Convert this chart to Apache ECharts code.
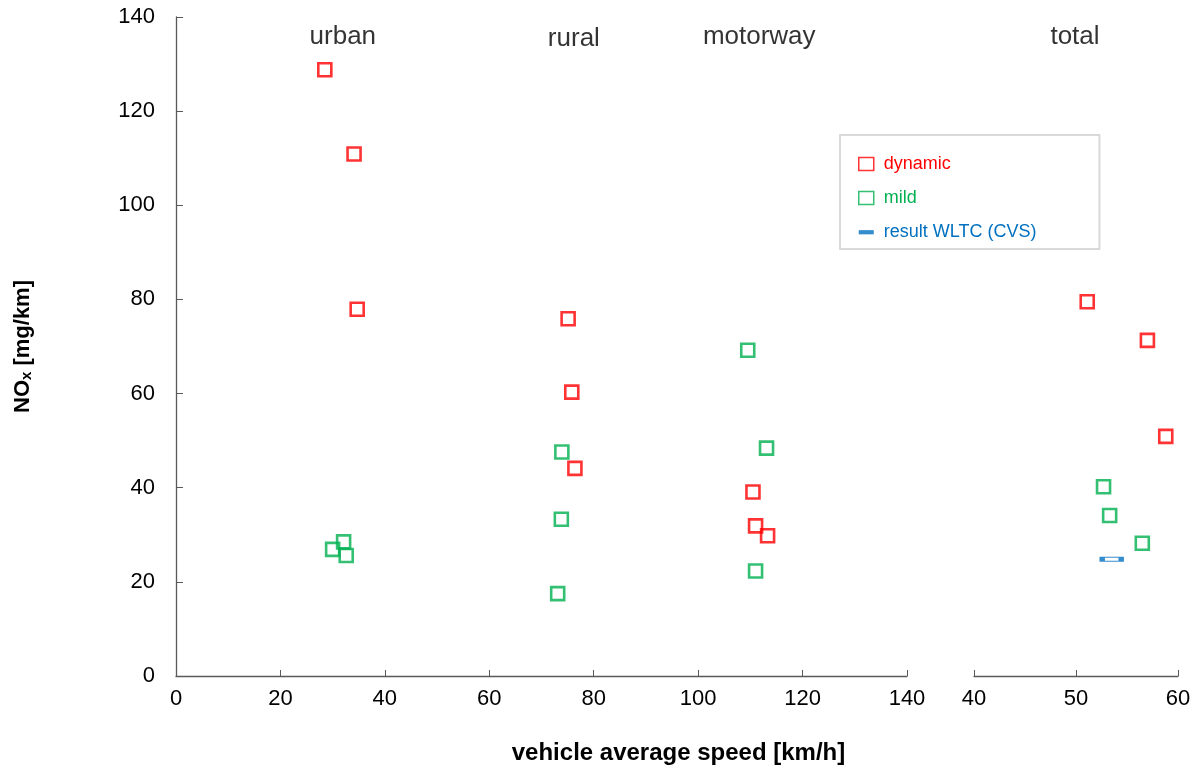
<!DOCTYPE html>
<html>
<head>
<meta charset="utf-8">
<script src="https://cdn.jsdelivr.net/npm/echarts@6/dist/echarts.min.js"></script>
<style>
html,body{margin:0;padding:0;background:#fff;}
#chart{width:1203px;height:772px;}
</style>
</head>
<body>
<div id="chart"></div>
<script>
// ---- data (x = vehicle average speed km/h, y = NOx mg/km) ----
const urbanDynamic = [[28.5,128.8],[34.1,110.9],[34.7,77.9]];
const urbanMild = [[30.0,26.9],[32.1,28.5],[32.6,25.6]];
const ruralDynamic = [[75.1,75.9],[75.8,60.3],[76.4,44.1]];
const ruralMild = [[73.9,47.6],[73.8,33.3],[73.1,17.5]];
const motorwayDynamic = [[110.5,39.1],[111.0,31.9],[113.3,29.8]];
const motorwayMild = [[109.5,69.2],[113.1,48.4],[111.0,22.3]];
const totalDynamic = [[51.1,79.5],[57.0,71.3],[58.8,50.9]];
const totalMild = [[52.7,40.2],[53.3,34.1],[56.5,28.2]];
const totalWLTC = [[53.5,24.8]];
const phaseLabels = [[31.95,135.8,'urban'],[76.2,135.3,'rural'],[111.7,135.8,'motorway']];
const totalLabel = [[49.9,135.8,'total']];
const seriesNames = ['dynamic','mild','result WLTC (CVS)'];

const RED = '#FF0000', GREEN = '#00B050', BLUE = '#0070C0', AXIS = '#595959';
const FONT = '"Liberation Sans", Arial, sans-serif';

const chart = echarts.init(document.getElementById('chart'));

function sq(name, data, color, xi) {
  return {
    name: name, type: 'scatter', xAxisIndex: xi, yAxisIndex: xi, data: data,
    symbol: 'rect', symbolSize: 13,
    itemStyle: {color: 'transparent', borderColor: color, borderWidth: 2.6},
    emphasis: {disabled: true}, z: 3
  };
}
function lbl(data, xi) {
  return {
    type: 'scatter', xAxisIndex: xi, yAxisIndex: xi, data: data,
    symbolSize: 0, silent: true,
    label: {show: true, position: 'inside', formatter: p => p.data[2],
      fontSize: 26, color: '#000', fontFamily: FONT}
  };
}
const xCommon = {
  type: 'value',
  axisLine: {show: true, onZero: false, lineStyle: {color: AXIS, width: 1.3}},
  axisTick: {show: true, inside: true, length: 6, lineStyle: {color: AXIS}},
  axisLabel: {fontSize: 22, color: '#000', margin: 12, fontFamily: FONT},
  splitLine: {show: false}
};

chart.setOption({
  animation: false,
  backgroundColor: '#fff',
  textStyle: {fontFamily: FONT},
  grid: [
    {left: 176, top: 17, width: 731, bottom: 96, containLabel: false},
    {left: 974, top: 17, width: 204, bottom: 96, containLabel: false}
  ],
  xAxis: [
    Object.assign({}, xCommon, {gridIndex: 0, min: 0, max: 140, interval: 20,
      name: 'vehicle average speed [km/h]', nameLocation: 'middle', nameGap: 65,
      nameTextStyle: {fontSize: 24, fontWeight: 'bold', color: '#000', fontFamily: FONT,
        padding: [0, 0, 0, 274]}}),
    Object.assign({}, xCommon, {gridIndex: 1, min: 40, max: 60, interval: 10})
  ],
  yAxis: [
    {type: 'value', gridIndex: 0, min: 0, max: 140, interval: 20,
      axisLine: {show: true, lineStyle: {color: AXIS, width: 1.3}},
      axisTick: {show: true, inside: true, length: 7, lineStyle: {color: AXIS}},
      axisLabel: {fontSize: 22, color: '#000', margin: 21, fontFamily: FONT},
      splitLine: {show: false},
      name: '{b|NO}{s|x}{b| [mg/km]}', nameLocation: 'middle', nameGap: 142, nameRotate: 90,
      nameTextStyle: {color: '#000', rich: {
        b: {fontSize: 22, fontWeight: 'bold', color: '#000', fontFamily: FONT},
        s: {fontSize: 15, fontWeight: 'bold', color: '#000', fontFamily: FONT, verticalAlign: 'bottom', padding: [8, 0, 0, 0]}
      }}},
    {type: 'value', gridIndex: 1, min: 0, max: 140, show: false}
  ],
  legend: {
    orient: 'vertical', left: 840, top: 135,
    padding: [20, 63, 8, 18], itemGap: 16, itemWidth: 15, itemHeight: 13,
    borderColor: '#d9d9d9', borderWidth: 2, backgroundColor: '#fff',
    selectedMode: false,
    textStyle: {fontSize: 18, fontFamily: FONT, padding: [0, 0, 0, 5]},
    data: [
      {name: seriesNames[0], icon: 'rect', textStyle: {color: RED},
        itemStyle: {color: 'transparent', borderColor: RED, borderWidth: 1.5}},
      {name: seriesNames[1], icon: 'rect', textStyle: {color: GREEN},
        itemStyle: {color: 'transparent', borderColor: GREEN, borderWidth: 1.5}},
      {name: seriesNames[2], icon: 'path://M0,0 M0,13 M0,4.5 L16,4.5 L16,9 L0,9 Z', textStyle: {color: BLUE},
        itemStyle: {color: BLUE, borderWidth: 0}}
    ]
  },
  series: [
    sq(seriesNames[0], urbanDynamic.concat(ruralDynamic, motorwayDynamic), RED, 0),
    sq(seriesNames[1], urbanMild.concat(ruralMild, motorwayMild), GREEN, 0),
    sq(seriesNames[0], totalDynamic, RED, 1),
    sq(seriesNames[1], totalMild, GREEN, 1),
    {name: seriesNames[2], type: 'scatter', xAxisIndex: 1, yAxisIndex: 1, data: totalWLTC,
      symbol: 'rect', symbolSize: [19, 4],
      itemStyle: {color: '#fff', borderColor: BLUE, borderWidth: 2.5},
      emphasis: {disabled: true}, z: 4},
    lbl(phaseLabels, 0),
    lbl(totalLabel, 1)
  ]
});
</script>
</body>
</html>
